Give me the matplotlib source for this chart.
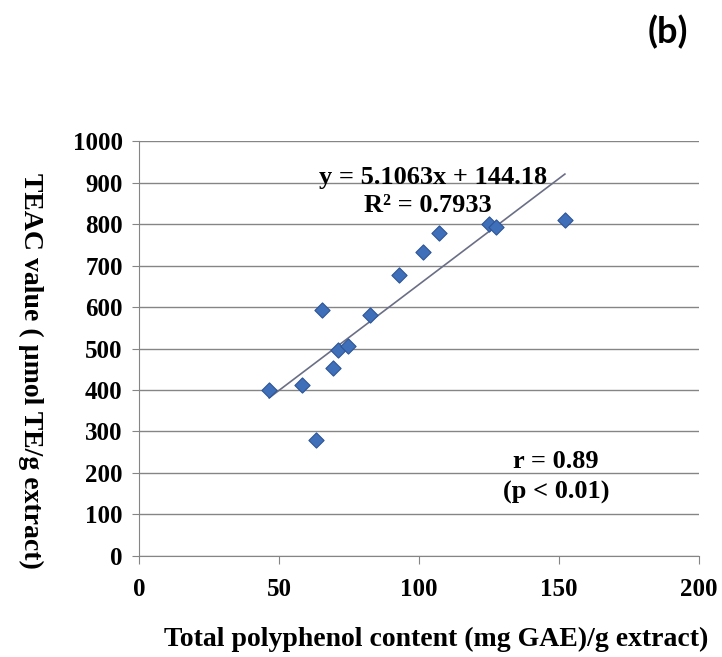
import numpy as np
import matplotlib
matplotlib.use("Agg")
import matplotlib.pyplot as plt

# polyphenol content (mg GAE/g) vs TEAC (umol TE/g)
polyphenol = [46.4, 58.2, 63.2, 65.4, 69.3, 71.1, 74.6, 82.5, 92.9, 101.4, 107.1, 125.0, 127.5, 152.1]
teac = [400, 412, 280, 593, 453, 496, 506, 581, 677, 733, 778, 800, 793, 810]

slope = 5.1063
intercept = 144.18

plt.rcParams['font.family'] = ['Liberation Serif', 'DejaVu Serif']

fig = plt.figure(figsize=(7.22, 6.57), dpi=100)
ax = fig.add_axes([0.193, 0.154, 0.775, 0.631])

ax.scatter(polyphenol, teac, marker='D', s=60, color='#3f6fb8',
           edgecolors='#2d5598', linewidths=0.8, zorder=3)

xs = np.array([min(polyphenol), max(polyphenol)])
ax.plot(xs, slope * xs + intercept, color='#6a6f86', lw=1.2, zorder=2)

ax.set_xlim(0, 200)
ax.set_ylim(0, 1000)
ax.set_xticks([0, 50, 100, 150, 200])
ax.set_yticks(range(0, 1001, 100))
ax.yaxis.grid(True, color='#858585', lw=1.0)
ax.set_axisbelow(True)
for s in ['top', 'right']:
    ax.spines[s].set_visible(False)
ax.spines['left'].set_color('#858585')
ax.spines['bottom'].set_color('#858585')
ax.tick_params(axis='x', direction='out', length=6, color='#858585', pad=10)
ax.tick_params(axis='y', direction='out', length=5, color='#858585', pad=7)
for lab in ax.get_xticklabels() + ax.get_yticklabels():
    lab.set_fontsize(18)
    lab.set_fontweight('bold')

fig.text(0.604, 0.026, 'Total polyphenol content (mg GAE)/g extract)', fontsize=20,
         fontweight='bold', ha='center', va='center')
fig.text(0.042, 0.435, 'TEAC value ( µmol TE/g extract)', fontsize=20,
         fontweight='bold', ha='center', va='center', rotation=270)

ax.text(105, 913, 'y = 5.1063x + 144.18', fontsize=19, fontweight='bold',
        ha='center', va='center')
ax.text(103, 846, 'R² = 0.7933', fontsize=19, fontweight='bold',
        ha='center', va='center')
ax.text(149, 227, 'r = 0.89', fontsize=19, fontweight='bold',
        ha='center', va='center')
ax.text(149, 152, '(p < 0.01)', fontsize=19, fontweight='bold',
        ha='center', va='center')

fig.text(0.925, 0.951, '(b)', fontsize=26, fontweight='bold',
         family=['Lato', 'DejaVu Sans'], ha='center', va='center')

fig.savefig('out.png', dpi=100)
